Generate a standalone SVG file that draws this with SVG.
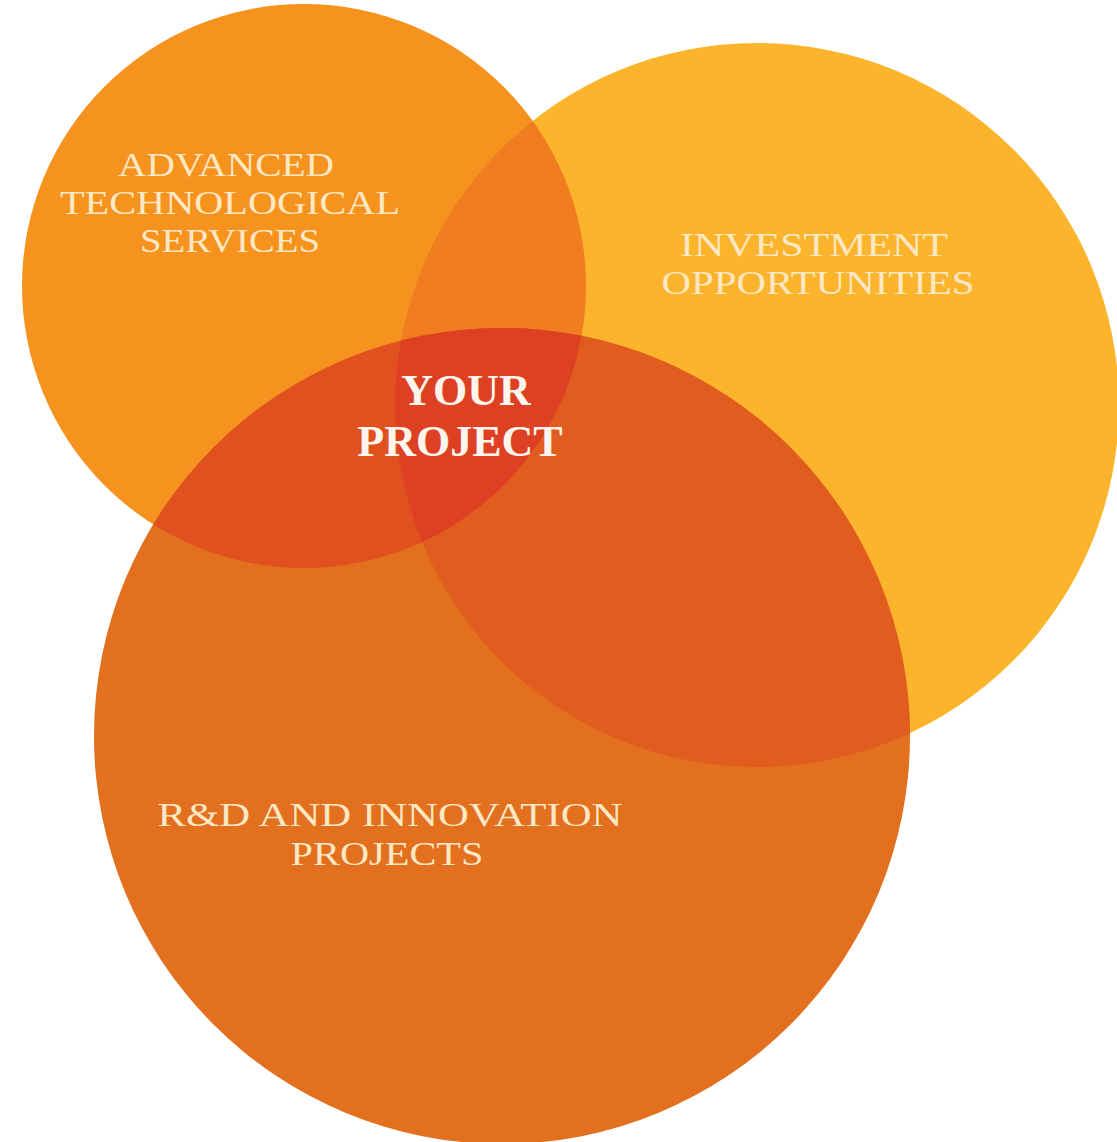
<svg xmlns="http://www.w3.org/2000/svg" width="1117" height="1142" viewBox="0 0 1117 1142">
  <style>
    .lbl { font-family: "Liberation Serif", "DejaVu Serif", serif; fill: #FCE8C4; text-anchor: middle; font-size: 34px; }
    .core { font-family: "Liberation Serif", "DejaVu Serif", serif; font-weight: bold; fill: #FFF5EC; text-anchor: middle; font-size: 44px; }
  </style>
  <defs>
    <clipPath id="clipA"><circle cx="304" cy="286" r="282"/></clipPath>
    <clipPath id="clipB"><circle cx="757" cy="405" r="362"/></clipPath>
  </defs>
  <rect x="0" y="0" width="1117" height="1142" fill="#FFFFFF"/>

  <g id="services">
    <circle cx="304" cy="286" r="282" fill="#F6921E"/>
  </g>
  <g id="investment">
    <circle cx="757" cy="405" r="362" fill="#FBB42B"/>
  </g>
  <g id="rnd">
    <circle cx="502" cy="736" r="408" fill="#E2701E"/>
  </g>

  <g id="overlaps">
    <circle cx="757" cy="405" r="362" fill="#F07D1F" clip-path="url(#clipA)"/>
    <circle cx="502" cy="736" r="408" fill="#E0511F" clip-path="url(#clipA)"/>
    <circle cx="502" cy="736" r="408" fill="#E05C1F" clip-path="url(#clipB)"/>
    <g clip-path="url(#clipB)">
      <circle cx="502" cy="736" r="408" fill="#DD4022" clip-path="url(#clipA)"/>
    </g>
  </g>

  <g id="services-label">
    <text class="lbl" x="226" y="176" textLength="216" lengthAdjust="spacingAndGlyphs">ADVANCED</text>
    <text class="lbl" x="230" y="214" textLength="340" lengthAdjust="spacingAndGlyphs">TECHNOLOGICAL</text>
    <text class="lbl" x="230" y="252" textLength="180" lengthAdjust="spacingAndGlyphs">SERVICES</text>
  </g>
  <g id="investment-label">
    <text class="lbl" x="814" y="256" textLength="268" lengthAdjust="spacingAndGlyphs">INVESTMENT</text>
    <text class="lbl" x="818" y="294" textLength="313" lengthAdjust="spacingAndGlyphs">OPPORTUNITIES</text>
  </g>
  <g id="rnd-label">
    <text class="lbl" x="390" y="826" textLength="465" lengthAdjust="spacingAndGlyphs">R&amp;D AND INNOVATION</text>
    <text class="lbl" x="387" y="865" textLength="193" lengthAdjust="spacingAndGlyphs">PROJECTS</text>
  </g>
  <g id="your-project">
    <text class="core" x="466" y="405">YOUR</text>
    <text class="core" x="460" y="456">PROJECT</text>
  </g>
</svg>
